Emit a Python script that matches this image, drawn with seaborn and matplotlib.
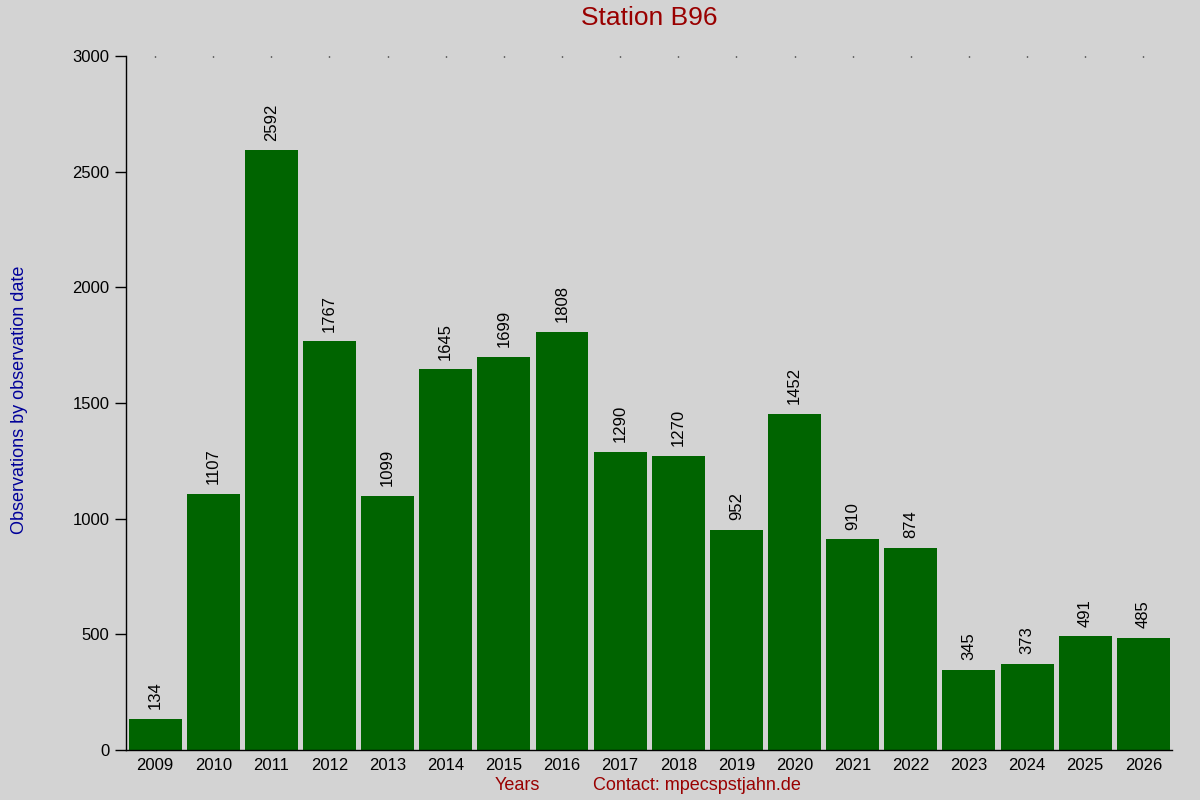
import matplotlib
matplotlib.use("Agg")
import matplotlib.pyplot as plt
import seaborn as sns
import pandas as pd

years = ["2009", "2010", "2011", "2012", "2013", "2014", "2015", "2016", "2017",
         "2018", "2019", "2020", "2021", "2022", "2023", "2024", "2025", "2026"]
observations = [134, 1107, 2592, 1767, 1099, 1645, 1699, 1808, 1290,
                1270, 952, 1452, 910, 874, 345, 373, 491, 485]

df = pd.DataFrame({"Year": years, "Obs": observations})

sns.set_style("white")
plt.rcParams["font.family"] = ["Liberation Sans", "DejaVu Sans"]

bg = "#d3d3d3"
fig = plt.figure(figsize=(12, 8), dpi=100, facecolor=bg)
ax = fig.add_axes([0.105, 0.0625, 0.872, 0.8675])
ax.set_facecolor(bg)

sns.barplot(data=df, x="Year", y="Obs", color="#006400", saturation=1,
            width=0.91, edgecolor="none", linewidth=0, ax=ax)

# value labels, rotated, just above each bar
for i, v in enumerate(observations):
    ax.annotate(str(v), (i, v), xytext=(0, 7), textcoords="offset points",
                rotation=90, ha="center", va="bottom", fontsize=12, color="black")

ax.set_ylim(0, 3000)
ax.set_xlim(-0.5, len(years) - 0.5)
ax.set_yticks([0, 500, 1000, 1500, 2000, 2500, 3000])
ax.tick_params(axis="y", left=True, length=8, width=1, labelsize=12,
               colors="black", pad=4)
ax.tick_params(axis="x", bottom=False, top=True, length=1, width=1,
               direction="in", labelsize=12, colors="black", pad=6)

for s in ["top", "right"]:
    ax.spines[s].set_visible(False)
ax.spines["left"].set_color("black")
ax.spines["bottom"].set_color("black")
ax.spines["left"].set_linewidth(1)
ax.spines["bottom"].set_linewidth(1)

ax.set_xlabel("")
ax.set_ylabel("")
fig.text(0.541, 0.977, "Station B96", ha="center", va="center",
         color="#990000", fontsize=19)

fig.text(0.009, 0.5, "Observations by observation date", rotation=90,
         ha="left", va="center", color="#000099", fontsize=13)
fig.text(0.431, 0.018, "Years", ha="center", va="center", color="#990000", fontsize=13)
fig.text(0.581, 0.018, "Contact: mpecspstjahn.de", ha="center", va="center",
         color="#990000", fontsize=13)

fig.savefig("out.png", dpi=100, facecolor=bg)
